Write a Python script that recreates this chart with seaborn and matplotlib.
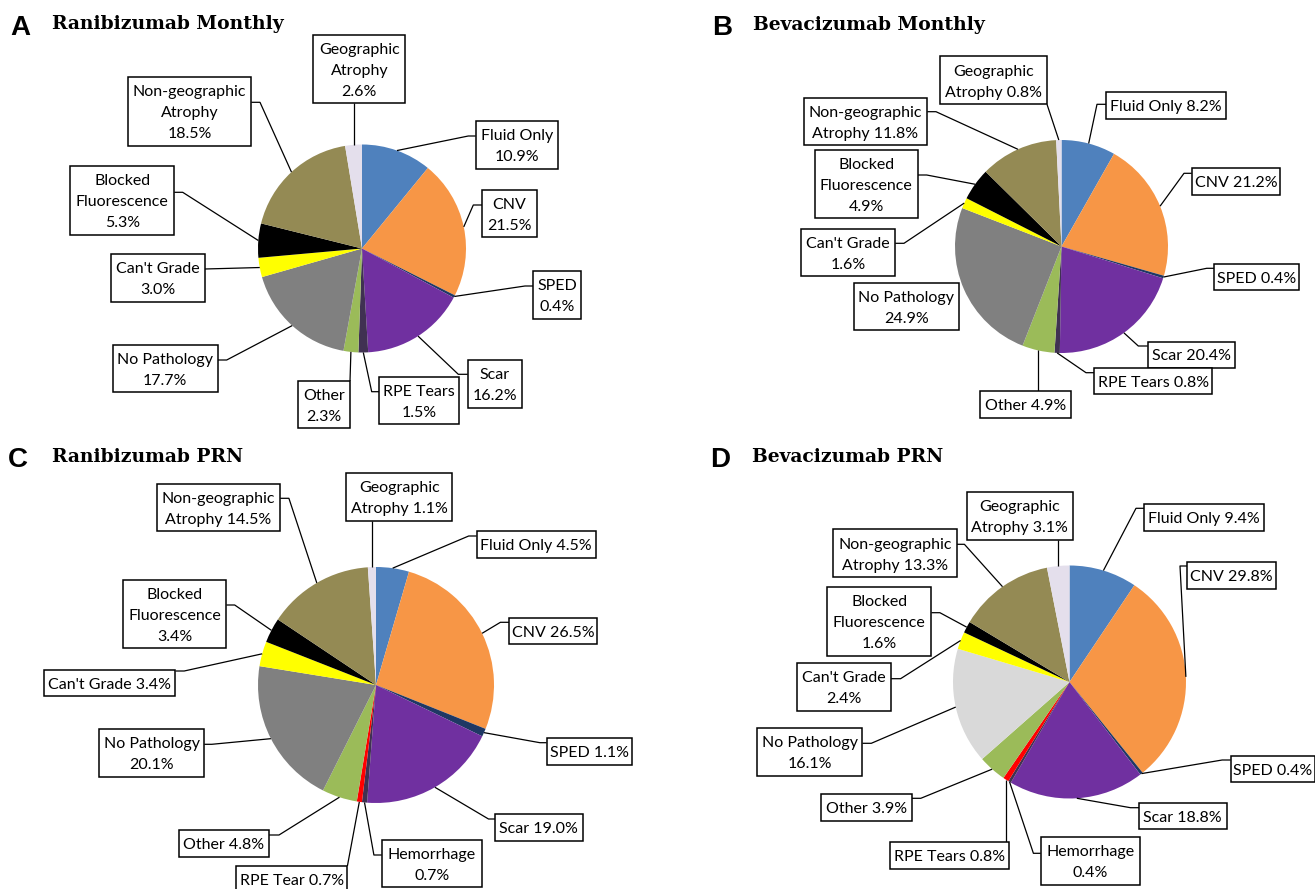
import matplotlib
matplotlib.use("Agg")
import matplotlib.pyplot as plt
from matplotlib.patches import Rectangle
import numpy as np
import seaborn as sns

# ---------------------------------------------------------------- data
cats_A = ["Fluid Only", "CNV", "SPED", "Scar", "RPE Tears", "Other", "No Pathology",
          "Can't Grade", "Blocked Fluorescence", "Non-geographic Atrophy",
          "Geographic Atrophy"]
vals_A = [10.9, 21.5, 0.4, 16.2, 1.5, 2.3, 17.7, 3.0, 5.3, 18.5, 2.6]

cats_B = ["Fluid Only", "CNV", "SPED", "Scar", "RPE Tears", "Other", "No Pathology",
          "Can't Grade", "Blocked Fluorescence", "Non-geographic Atrophy",
          "Geographic Atrophy"]
vals_B = [8.2, 21.2, 0.4, 20.4, 0.8, 4.9, 24.9, 1.6, 4.9, 11.8, 0.8]

cats_C = ["Fluid Only", "CNV", "SPED", "Scar", "Hemorrhage", "RPE Tear", "Other",
          "No Pathology", "Can't Grade", "Blocked Fluorescence",
          "Non-geographic Atrophy", "Geographic Atrophy"]
vals_C = [4.5, 26.5, 1.1, 19.0, 0.7, 0.7, 4.8, 20.1, 3.4, 3.4, 14.5, 1.1]

cats_D = ["Fluid Only", "CNV", "SPED", "Scar", "Hemorrhage", "RPE Tears", "Other",
          "No Pathology", "Can't Grade", "Blocked Fluorescence",
          "Non-geographic Atrophy", "Geographic Atrophy"]
vals_D = [9.4, 29.8, 0.4, 18.8, 0.4, 0.8, 3.9, 16.1, 2.4, 1.6, 13.3, 3.1]

titles = {"A": "Ranibizumab Monthly", "B": "Bevacizumab Monthly",
          "C": "Ranibizumab PRN", "D": "Bevacizumab PRN"}

# --------------------------------------------------------------- styles
base_colors = {
    "Fluid Only": "#4F81BD", "CNV": "#F79646", "SPED": "#1F3864", "Scar": "#7030A0",
    "RPE Tears": "#403152", "RPE Tear": "#FF0000", "Hemorrhage": "#403152",
    "Other": "#9BBB59", "No Pathology": "#808080", "Can't Grade": "#FFFF00",
    "Blocked Fluorescence": "#000000", "Non-geographic Atrophy": "#948A54",
    "Geographic Atrophy": "#E4DFEC",
}
color_override = {"D": {"RPE Tears": "#FF0000", "No Pathology": "#D9D9D9"}}

W, H = 1315, 889


def Y(y):
    return H - y


# label boxes: category -> (line template, x0, y0, x1, y1, side, attach_y, elbow_x)
layout_A = {
    "Fluid Only": ("Fluid Only|{v}", 475.7, 121, 557.7, 168.7, "left", 136, 468.3),
    "CNV": ("CNV|{v}", 482.3, 189.7, 536.7, 237.3, "left", 205, 473.3),
    "SPED": ("SPED|{v}", 533.3, 271.3, 581, 318.7, "left", 286, 525),
    "Scar": ("Scar|{v}", 467.7, 360, 522, 407.7, "left", 374.3, 458.3),
    "RPE Tears": ("RPE Tears|{v}", 379.3, 376.7, 459.3, 424, "left", 391.7, 371.7),
    "Other": ("Other|{v}", 297.7, 381, 350, 428.3, "top", None, None),
    "No Pathology": ("No Pathology|{v}", 112.7, 344.7, 218, 392.3, "right", 360, 226.7),
    "Can't Grade": ("Can't Grade|{v}", 110.7, 254, 204.7, 301.7, "right", 269, None),
    "Blocked Fluorescence": ("Blocked|Fluorescence|{v}", 70.3, 166.3, 174.3, 235,
                             "right", 192.3, 182.7),
    "Non-geographic Atrophy": ("Non-geographic|Atrophy|{v}", 127.7, 77, 251.3, 145.7,
                               "right", 102.3, 260),
    "Geographic Atrophy": ("Geographic|Atrophy|{v}", 313.3, 34.7, 405.3, 103.3,
                           "bottom", None, None),
}
layout_B = {
    "Fluid Only": ("Fluid Only {v}", 1106.3, 92.3, 1226, 119, "left", 104.3, 1097),
    "CNV": ("CNV {v}", 1191.7, 168.3, 1280, 195, "left", 173.3, 1184),
    "SPED": ("SPED {v}", 1214, 264, 1299.3, 290, "left", 268.3, 1206.7),
    "Scar": ("Scar {v}", 1147.7, 341.7, 1235.3, 367.7, "left", 346, 1138.3),
    "RPE Tears": ("RPE Tears {v}", 1094.3, 368.3, 1212.3, 394.3, "left", 372.7, 1086),
    "Other": ("Other {v}", 980.3, 391, 1071, 417.7, "top", None, None),
    "No Pathology": ("No Pathology|{v}", 853.7, 282.7, 959.3, 330, None, None, None),
    "Can't Grade": ("Can't Grade|{v}", 801, 229, 895.3, 276, "right", 243.3, 904),
    "Blocked Fluorescence": ("Blocked|Fluorescence|{v}", 814.7, 150, 918, 217.7,
                             "right", 175, 926.7),
    "Non-geographic Atrophy": ("Non-geographic|Atrophy {v}", 803.7, 97.7, 927.3, 145,
                               "right", 111.7, 936),
    "Geographic Atrophy": ("Geographic|Atrophy {v}", 940.3, 56.3, 1047, 104.3,
                           "bottom", None, None),
}
layout_C = {
    "Fluid Only": ("Fluid Only {v}", 476.6, 531, 596, 558, "left", 536, 468.7),
    "CNV": ("CNV {v}", 509, 617.7, 597.2, 644.3, "left", 622.3, 500.4),
    "SPED": ("SPED {v}", 546.6, 737.7, 631.6, 764.7, "left", 742.7, 539.9),
    "Scar": ("Scar {v}", 495.2, 814, 582.6, 840.7, "left", 819, 488.5),
    "Hemorrhage": ("Hemorrhage|{v}", 381.8, 840, 481.8, 887.3, "left", 855, 373.9),
    "RPE Tear": ("RPE Tear {v}", 236.3, 866, 347.4, 893, "top", None, None),
    "Other": ("Other {v}", 179, 830, 269.1, 856.7, "right", 835, 279),
    "No Pathology": ("No Pathology|{v}", 98.8, 729.3, 204.3, 776.7, "right", 744.3, 211.8),
    "Can't Grade": ("Can't Grade {v}", 43.8, 670, 175.5, 696, "right", 671, 184.2),
    "Blocked Fluorescence": ("Blocked|Fluorescence|{v}", 123.3, 580, 226.4, 648.3,
                             "right", 605, 234.7),
    "Non-geographic Atrophy": ("Non-geographic|Atrophy {v}", 156.9, 484, 280.2, 531.3,
                               "right", 498.3, 288.9),
    "Geographic Atrophy": ("Geographic|Atrophy {v}", 346.2, 472.7, 452.1, 520.7,
                           "bottom", None, None),
}
layout_D = {
    "Fluid Only": ("Fluid Only {v}", 1144.1, 504, 1263.6, 530.7, "left", 508.3, 1136),
    "CNV": ("CNV {v}", 1187.4, 561.7, 1276.1, 588.7, "left", 566, 1180),
    "SPED": ("SPED {v}", 1230.6, 755.7, 1315, 782.3, "left", 760, 1222.2),
    "Scar": ("Scar {v}", 1139, 802.7, 1226.6, 829.3, "left", 807.7, 1130.5),
    "Hemorrhage": ("Hemorrhage|{v}", 1040.7, 837.3, 1139.7, 885, "left", 853.3, 1033.4),
    "RPE Tears": ("RPE Tears {v}", 890.3, 842.3, 1008.8, 869, "top", None, None),
    "Other": ("Other {v}", 821.4, 794, 912, 820.7, "right", 798.3, 920.8),
    "No Pathology": ("No Pathology|{v}", 757.2, 728.3, 862.5, 776, "right", 743.3, 871.3),
    "Can't Grade": ("Can't Grade|{v}", 796.8, 663.3, 891.1, 711, "right", 678.7, 900.6),
    "Blocked Fluorescence": ("Blocked|Fluorescence|{v}", 827.3, 587.3, 931.4, 656,
                             "right", 612.7, 939.9),
    "Non-geographic Atrophy": ("Non-geographic|Atrophy {v}", 833.1, 529.3, 957.1, 577.3,
                               "right", 544.3, 964.4),
    "Geographic Atrophy": ("Geographic|Atrophy {v}", 966.6, 492.3, 1073, 540,
                           "bottom", None, None),
}

panels = [
    # key, categories, values, centre (px), radius (px), layout, letter pos, title pos
    ("A", cats_A, vals_A, (362, 248.5), 104, layout_A, (10, 35), (52, 29)),
    ("B", cats_B, vals_B, (1061.5, 246.5), 106.5, layout_B, (712, 35), (753, 30)),
    ("C", cats_C, vals_C, (376, 685), 118, layout_C, (8, 467), (52, 462)),
    ("D", cats_D, vals_D, (1069.5, 682), 116.5, layout_D, (710, 467), (752, 462)),
]

# --------------------------------------------------------------- figure
sns.set_theme(style="white")
plt.rcParams["font.family"] = ["Lato", "DejaVu Sans"]

fig = plt.figure(figsize=(W / 100, H / 100), dpi=100)
ax = fig.add_axes([0, 0, 1, 1])

LABEL_PT = 11.5
LINE_PX = 21
BASE_SHIFT = 0.72 * LABEL_PT * 100 / 72 / 2

for key, cats, vals, (cx, cy), r, layout, (lx, ly), (tx, ty) in panels:
    colors = [color_override.get(key, {}).get(c, base_colors[c]) for c in cats]
    wedges, _ = ax.pie(vals, colors=colors, startangle=90, counterclock=False,
                       center=(cx, Y(cy)), radius=r,
                       wedgeprops=dict(linewidth=0, antialiased=True))

    for cat, v, wedge in zip(cats, vals, wedges):
        tmpl, x0, y0, x1, y1, side, ay, ex = layout[cat]
        # leader end: outer edge of the wedge at its mid angle
        mid = np.deg2rad((wedge.theta1 + wedge.theta2) / 2)
        px = cx + r * np.cos(mid)
        py = cy - r * np.sin(mid)
        if side in ("left", "right"):
            sx = x0 if side == "left" else x1
            pts = [(sx, ay)]
            if ex is not None:
                pts.append((ex, ay))
            pts.append((px, py))
        elif side in ("top", "bottom"):
            sx = min(max(px, x0), x1)
            sy = y0 if side == "top" else y1
            pts = [(sx, sy), (px, py)]
        else:
            pts = None
        if pts is not None:
            xs, ys = zip(*pts)
            ax.plot(xs, [Y(y) for y in ys], color="black", lw=0.9,
                    solid_capstyle="butt", zorder=3)

        ax.add_patch(Rectangle((x0, Y(y1)), x1 - x0, y1 - y0, facecolor="white",
                               edgecolor="black", lw=1.1, zorder=4))
        lines = tmpl.format(v=f"{v:.1f}%").split("|")
        yc = (y0 + y1) / 2
        n = len(lines)
        for i, line in enumerate(lines):
            ycl = yc + (i - (n - 1) / 2) * LINE_PX
            ax.text((x0 + x1) / 2, Y(ycl + BASE_SHIFT), line, ha="center",
                    va="baseline", fontsize=LABEL_PT, color="black", zorder=5)

    ax.text(lx, Y(ly), key, ha="left", va="baseline", fontsize=20,
            fontweight="bold", family=["Liberation Sans", "DejaVu Sans"], color="black")
    ax.text(tx, Y(ty), titles[key], ha="left", va="baseline", fontsize=13.5,
            fontweight="bold", family=["DejaVu Serif"], color="black")

ax.set_aspect("auto")
ax.set_xlim(0, W)
ax.set_ylim(0, H)
ax.axis("off")

fig.savefig("out.png", dpi=100, facecolor="white")
